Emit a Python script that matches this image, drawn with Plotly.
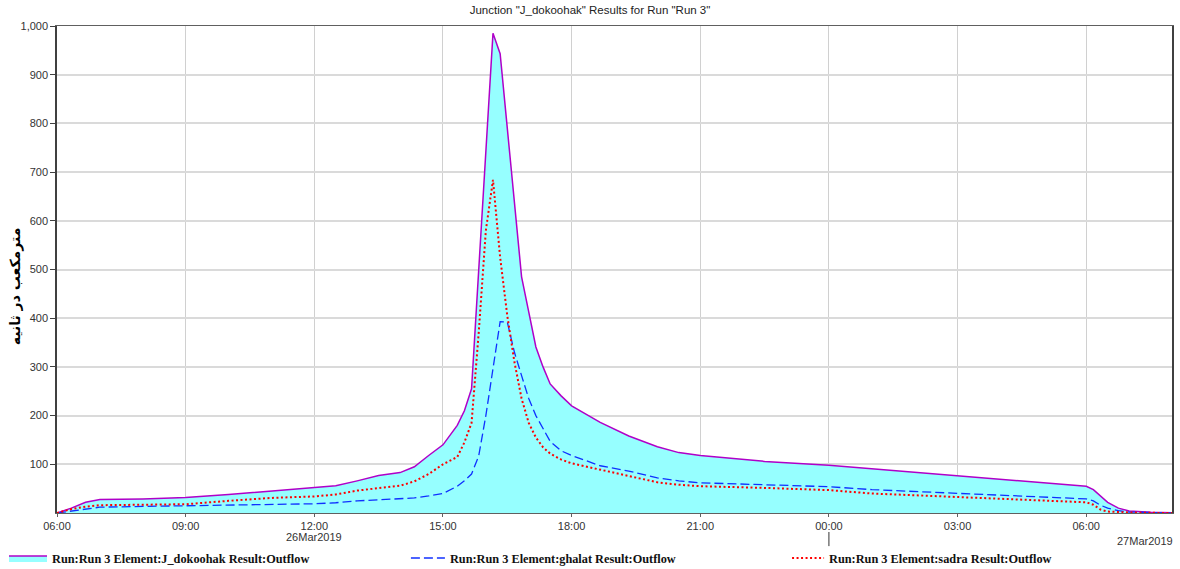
import plotly.graph_objects as go

# Time stamps (26Mar2019 06:00 -> 27Mar2019 08:00)
times = [
    "2019-03-26 06:00", "2019-03-26 06:20", "2019-03-26 06:40", "2019-03-26 07:00",
    "2019-03-26 08:00", "2019-03-26 09:00", "2019-03-26 10:00", "2019-03-26 11:00",
    "2019-03-26 12:00", "2019-03-26 12:30", "2019-03-26 13:00", "2019-03-26 13:30",
    "2019-03-26 14:00", "2019-03-26 14:20", "2019-03-26 14:40", "2019-03-26 15:00",
    "2019-03-26 15:20", "2019-03-26 15:30", "2019-03-26 15:40", "2019-03-26 15:50",
    "2019-03-26 16:00", "2019-03-26 16:10", "2019-03-26 16:20", "2019-03-26 16:30",
    "2019-03-26 16:40", "2019-03-26 16:50", "2019-03-26 17:00", "2019-03-26 17:10",
    "2019-03-26 17:20", "2019-03-26 17:30", "2019-03-26 17:45", "2019-03-26 18:00",
    "2019-03-26 18:40", "2019-03-26 19:20", "2019-03-26 20:00", "2019-03-26 20:30",
    "2019-03-26 21:00", "2019-03-26 22:30", "2019-03-27 00:00", "2019-03-27 01:00",
    "2019-03-27 03:00", "2019-03-27 04:30", "2019-03-27 06:00", "2019-03-27 06:10",
    "2019-03-27 06:20", "2019-03-27 06:30", "2019-03-27 06:45", "2019-03-27 07:00",
    "2019-03-27 07:30", "2019-03-27 08:00",
]

j_dokoohak = [
    0, 10, 22, 27.5, 29, 32, 38, 45, 51, 56, 66, 77,
    83, 95, 118, 140, 180, 210, 255, 498, 742, 985, 943, 787,
    630, 485, 413, 341, 300, 265, 241, 220, 186, 158, 136, 124,
    118, 106, 98, 91, 76, 65, 55, 48, 34, 22, 10, 4,
    1.5, 0.5,
]

ghalat = [
    0, 4, 8, 12, 13.5, 14.5, 15.5, 17, 19, 21, 25, 27,
    29, 31, 35, 40, 55, 66, 80, 117, 200, 300, 393, 392,
    330, 282, 235, 200, 172, 147, 128, 118, 97, 86, 72, 66,
    62, 58.5, 54, 48, 40, 34, 29, 25, 16, 10, 5, 2,
    0.5, 0.2,
]

sadra = [
    0, 8, 13, 16, 17, 18, 25, 31, 34, 38, 46, 51,
    56, 65, 80, 100, 115, 145, 185, 370, 580, 684, 525, 405,
    310, 235, 185, 155, 135, 122, 110, 102, 89, 76, 63, 58,
    55, 51.5, 47, 40, 33, 27.5, 22, 17, 7, 3, 1.5, 1,
    0.3, 0.1,
]

series_names = [
    "Run:Run 3 Element:J_dokoohak Result:Outflow",
    "Run:Run 3 Element:ghalat Result:Outflow",
    "Run:Run 3 Element:sadra Result:Outflow",
]

y_tick_vals = [100, 200, 300, 400, 500, 600, 700, 800, 900, 1000]
x_tick_vals = ["2019-03-26 06:00", "2019-03-26 09:00", "2019-03-26 12:00",
               "2019-03-26 15:00", "2019-03-26 18:00", "2019-03-26 21:00",
               "2019-03-27 00:00", "2019-03-27 03:00", "2019-03-27 06:00"]
x_tick_text = ["06:00", "09:00", "12:00", "15:00", "18:00", "21:00", "00:00", "03:00", "06:00"]

title_text = 'Junction "J_dokoohak" Results for Run "Run 3"'
y_title = "مترمکعب در ثانیه"

fig = go.Figure()
fig.add_trace(go.Scatter(
    x=times, y=j_dokoohak, name=series_names[0], mode="lines",
    line=dict(color="#B000C8", width=1.5),
    fill="tozeroy", fillcolor="#96FFFF", legend="legend",
))
fig.add_trace(go.Scatter(
    x=times, y=ghalat, name=series_names[1], mode="lines",
    line=dict(color="#1030FF", width=1.3, dash="9px,4px"), legend="legend2",
))
fig.add_trace(go.Scatter(
    x=times, y=sadra, name=series_names[2], mode="lines",
    line=dict(color="#FF0000", width=2, dash="2px,2.5px"), legend="legend3",
))

legend_font = dict(family="Liberation Serif, Times New Roman", size=12.3, color="#111", weight="bold")
legend_common = dict(orientation="h", xref="container", xanchor="left",
                     y=0.0193, yref="container", yanchor="middle",
                     font=legend_font, bgcolor="rgba(0,0,0,0)")

fig.update_layout(
    width=1180, height=569,
    margin=dict(l=57, r=8, t=26, b=56, autoexpand=False),
    paper_bgcolor="white", plot_bgcolor="white",
    title=dict(text=title_text, x=0.5, xref="container", y=0.982, yanchor="middle",
               font=dict(family="Liberation Sans, Arial", size=11.5, color="#222")),
    showlegend=True,
    legend=dict(x=0.0034, itemwidth=38, **legend_common),
    legend2=dict(x=0.344, itemwidth=34, **legend_common),
    legend3=dict(x=0.667, itemwidth=32, **legend_common),
    font=dict(family="Liberation Sans, Arial", size=11, color="#444"),
)

fig.update_xaxes(
    type="date", automargin=False,
    range=["2019-03-26 06:00", "2019-03-27 08:00"],
    tickvals=x_tick_vals, ticktext=x_tick_text,
    showgrid=True, gridcolor="#D0D0D0", gridwidth=1,
    showline=True, linecolor="#606060", linewidth=1, mirror=True,
    ticks="outside", ticklen=3, tickcolor="#606060",
    tickfont=dict(family="Liberation Sans, Arial", size=11, color="#333"),
    zeroline=False,
)
fig.update_yaxes(
    range=[0, 1000], automargin=False,
    tickvals=y_tick_vals, tickformat=",",
    showgrid=True, gridcolor="#DADADA", gridwidth=1.5,
    showline=True, linecolor="#404040", linewidth=1.5, mirror=True,
    ticks="outside", ticklen=5, tickcolor="#404040",
    tickfont=dict(family="Liberation Sans, Arial", size=11, color="#333"),
    zeroline=False,
)

# Y-axis title (placed as rotated text)
fig.add_annotation(x=-0.0375, xref="paper", y=0.466, yref="paper",
                   text="<b>" + y_title + "</b>", textangle=-90, showarrow=False,
                   xanchor="center", yanchor="middle",
                   font=dict(family="DejaVu Sans", size=14, color="#000"))

# Date labels and day separator
fig.add_annotation(x="2019-03-26 12:00", xref="x", y=-0.049, yref="paper",
                   text="26Mar2019", showarrow=False, yanchor="middle",
                   font=dict(family="Liberation Sans, Arial", size=11, color="#333"))
fig.add_annotation(x=1.003, xref="paper", y=-0.057, yref="paper",
                   text="27Mar2019", showarrow=False, xanchor="right", yanchor="middle",
                   font=dict(family="Liberation Sans, Arial", size=11, color="#333"))
fig.add_shape(type="line", x0="2019-03-27 00:00", x1="2019-03-27 00:00", xref="x",
              y0=-0.039, y1=-0.068, yref="paper", line=dict(color="#333", width=1))

fig.write_html("out.html", config={"displayModeBar": False},
               post_script="document.body.style.margin='0px';document.body.style.overflow='hidden';")
